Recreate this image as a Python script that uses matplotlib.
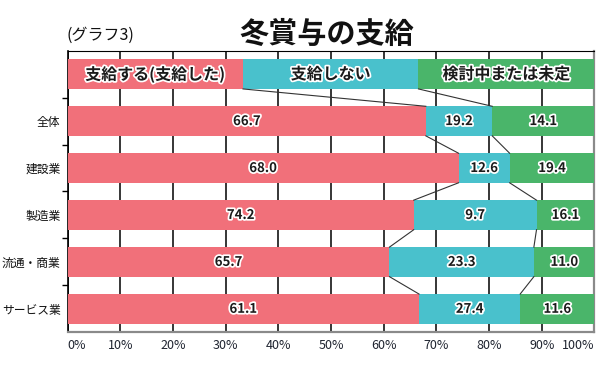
import numpy as np
import matplotlib
matplotlib.use("Agg")
import matplotlib.pyplot as plt
import matplotlib.patheffects as pe

plt.rcParams['font.family'] = ['Noto Sans CJK JP', 'DejaVu Sans']

# rows from top to bottom (first row is the legend strip inside the plot)
categories = ["", "全体", "建設業", "製造業", "流通・商業", "サービス業"]
series_names = ["支給する(支給した)", "支給しない", "検討中または未定"]

# printed values per row
pay = [66.7, 68.0, 74.2, 65.7, 61.1]
no_pay = [19.2, 12.6, 9.7, 23.3, 27.4]
undecided = [14.1, 19.4, 16.1, 11.0, 11.6]

# legend strip widths
legend_widths = [33.3, 33.3, 33.4]

xticks = [0, 10, 20, 30, 40, 50, 60, 70, 80, 90, 100]
colors = ["#F1707A", "#49C1CC", "#4AB56A"]

# in the picture each bar is drawn with the next row's values (last one wraps to the first)
bar_pay = np.roll(pay, -1)
bar_no = np.roll(no_pay, -1)
bar_und = np.roll(undecided, -1)

widths = np.column_stack([
    np.r_[legend_widths[0], bar_pay],
    np.r_[legend_widths[1], bar_no],
    np.r_[legend_widths[2], bar_und],
])
labels = np.column_stack([pay, no_pay, undecided])

fig = plt.figure(figsize=(6.05, 3.67), dpi=100)
ax = fig.add_axes([0.1116, 0.0946, 0.871, 0.7673])

y = np.arange(len(categories))
h = 0.63
left = np.zeros(len(categories))
stroke = [pe.withStroke(linewidth=2.5, foreground="white")]

for j in range(3):
    ax.barh(y, widths[:, j], left=left, height=h, color=colors[j], zorder=3)
    for i in range(len(categories)):
        cx = left[i] + widths[i, j] / 2
        if i == 0:
            ax.text(cx, y[i], series_names[j], ha="center", va="center",
                    fontsize=11.5, fontweight="bold", color="#1a1a1a",
                    path_effects=stroke, zorder=5)
        else:
            ax.text(cx, y[i], f"{labels[i - 1, j]:.1f}", ha="center", va="center",
                    fontsize=9.5, fontweight="bold", color="#1a1a1a",
                    path_effects=stroke, zorder=5)
    left = left + widths[:, j]

# series lines between neighbouring bars
cum = np.cumsum(widths, axis=1)
for i in range(len(categories) - 1):
    for j in range(2):
        ax.plot([cum[i, j], cum[i + 1, j]], [y[i] + h / 2, y[i + 1] - h / 2],
                color="#333333", lw=0.8, zorder=4)

ax.set_xlim(0, 100)
ax.set_ylim(len(categories) - 0.5, -0.5)

ax.set_xticks(xticks)
ax.set_xticklabels([f"{v}%" for v in xticks], fontsize=9, color="#1f2430")
tl = ax.get_xticklabels()
tl[0].set_ha("left")
tl[0].set_x(-0.5)
tl[-1].set_ha("right")
ax.tick_params(axis="x", length=0, pad=5)

ax.set_yticks(y[1:])
ax.set_yticklabels(categories[1:], fontsize=8.5, color="#111111")
ax.set_yticks(np.arange(0.5, len(categories) - 1, 1), minor=True)
ax.tick_params(axis="y", which="major", length=0, pad=5)
ax.tick_params(axis="y", which="minor", length=4, width=1, color="black", direction="out")

ax.xaxis.grid(True, color="black", lw=1.1, zorder=0)
ax.set_axisbelow(True)

ax.spines["top"].set_color("black")
ax.spines["left"].set_color("black")
ax.spines["left"].set_linewidth(1.2)
for s in ["right", "bottom"]:
    ax.spines[s].set_color("#8a8a8a")
    ax.spines[s].set_linewidth(1.6)

fig.text(327 / 605, 1 - 34 / 367, "冬賞与の支給", ha="center", va="center",
         fontsize=21, fontweight="bold", color="#111111")
fig.text(66 / 605, 1 - 35 / 367, "(グラフ3)", ha="left", va="center",
         fontsize=11.5, color="#111111")

fig.savefig("out.png", dpi=100)
